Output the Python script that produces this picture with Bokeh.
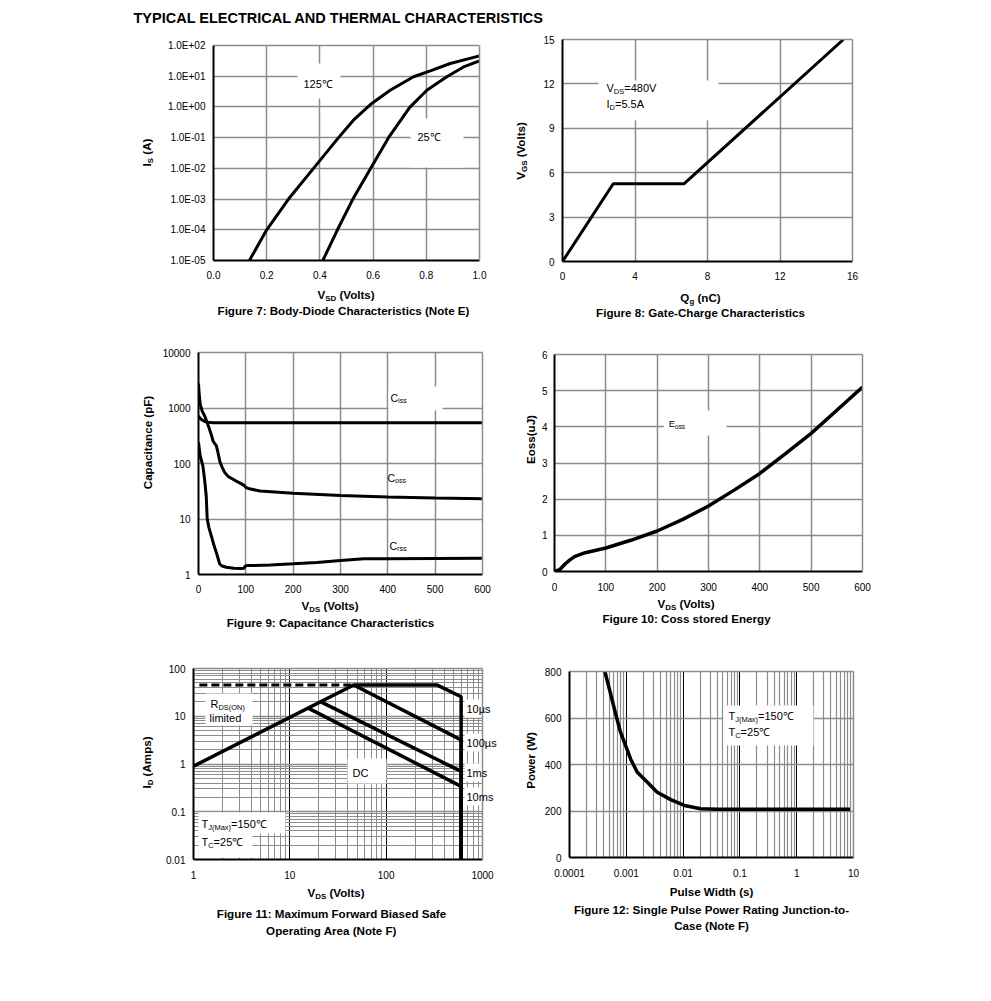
import math
from bokeh.plotting import figure
from bokeh.layouts import column, row
from bokeh.models import Label, BoxAnnotation, FixedTicker, Range1d, LinearAxis, LogAxis
from bokeh.embed import file_html
from bokeh.resources import INLINE

FONT = "Liberation Sans"
GRID = "#8c8c8c"

# ---------------- data ----------------
# Figure 7: body diode
vsd_125 = [0.135, 0.2, 0.282, 0.376, 0.47, 0.526, 0.595, 0.664, 0.752, 0.815, 0.89, 1.0]
is_125 = [1e-5, 1e-4, 1e-3, 1e-2, 1e-1, 0.37, 1.3, 3.5, 9.6, 15, 26, 46]
vsd_25 = [0.411, 0.466, 0.524, 0.591, 0.658, 0.737, 0.802, 0.877, 0.94, 1.0]
is_25 = [1e-5, 1e-4, 1e-3, 1e-2, 1e-1, 0.95, 3.5, 9.6, 20, 31.6]
f7_xticks = [0.0, 0.2, 0.4, 0.6, 0.8, 1.0]
f7_xlabels = ["0.0", "0.2", "0.4", "0.6", "0.8", "1.0"]
f7_yticks = [1e-5, 1e-4, 1e-3, 1e-2, 1e-1, 1.0, 10.0, 100.0]
f7_ylabels = ["1.0E-05", "1.0E-04", "1.0E-03", "1.0E-02", "1.0E-01", "1.0E+00", "1.0E+01", "1.0E+02"]

# Figure 8: gate charge
qg = [0, 2.8, 6.7, 15.5]
vgs = [0, 5.25, 5.25, 15]
f8_xticks = [0, 4, 8, 12, 16]
f8_yticks = [0, 3, 6, 9, 12, 15]

# Figure 9: capacitance
ciss_v = [0, 3, 6, 10, 15, 20, 30, 50, 100, 300, 600]
ciss = [720, 660, 620, 590, 565, 552, 545, 542, 540, 540, 540]
coss_v = [0, 1, 3.5, 8, 12.8, 18, 22, 27, 30.5, 34, 37.6, 41, 44.7, 50, 55.3, 63, 73, 82, 90.8, 97, 100, 105,
          130, 200, 300, 400, 500, 600]
coss = [2750, 2000, 1175, 870, 725, 560, 447, 330, 257, 230, 209, 160, 112, 85, 69, 58, 52, 47, 43, 40, 37, 35.5,
        32, 29, 26.6, 25, 24, 23.2]
crss_v = [0, 3.5, 9.2, 12.8, 16.3, 18.4, 22, 27, 32, 37.6, 41, 44.7, 50, 58.9, 75, 90.8, 96, 99, 102, 108, 151,
          200, 250, 300, 350, 400, 500, 600]
crss = [240, 138, 91, 52, 26, 10, 7, 5, 3.5, 2.5, 2.0, 1.55, 1.42, 1.35, 1.3, 1.28, 1.3, 1.42, 1.45, 1.45, 1.48,
        1.56, 1.65, 1.79, 1.92, 1.92, 1.95, 1.97]
f9_xticks = [0, 100, 200, 300, 400, 500, 600]
f9_yticks = [1.0, 10.0, 100.0, 1000.0, 10000.0]
f9_ylabels = ["1", "10", "100", "1000", "10000"]

# Figure 10: Eoss
eoss_v = [0, 10, 20, 30, 40, 60, 100, 150, 200, 250, 300, 350, 400, 450, 500, 550, 600]
eoss = [0, 0.05, 0.2, 0.32, 0.42, 0.52, 0.65, 0.87, 1.12, 1.44, 1.81, 2.25, 2.71, 3.26, 3.82, 4.46, 5.1]
f10_xticks = [0, 100, 200, 300, 400, 500, 600]
f10_yticks = [0, 1, 2, 3, 4, 5, 6]

# Figure 11: SOA
rds_v = [1.15, 46]
rds_i = [45, 45]
soa_10us_v = [1, 46, 340, 600, 600]
soa_10us_i = [0.9, 45, 45, 25.6, 0.01]
soa_100us_v = [46, 600, 600]
soa_100us_i = [45, 3.2, 0.01]
soa_1ms_v = [21, 600, 600]
soa_1ms_i = [20, 0.7, 0.01]
soa_dc_v = [15.5, 600, 600]
soa_dc_i = [14.8, 0.34, 0.01]
soa_names = ["10µs", "100µs", "1ms", "10ms"]
f11_xticks = [1.0, 10.0, 100.0, 1000.0]
f11_xlabels = ["1", "10", "100", "1000"]
f11_yticks = [0.01, 0.1, 1.0, 10.0, 100.0]
f11_ylabels = ["0.01", "0.1", "1", "10", "100"]

# Figure 12: single pulse power
pw = [4.2e-4, 5.3e-4, 6.5e-4, 7.9e-4, 1e-3, 1.19e-3, 1.56e-3, 2.35e-3, 3.5e-3, 6.05e-3, 0.0105, 0.0205, 0.04,
      0.1, 1, 8.7]
pwr = [800, 703, 617, 539, 474, 424, 367, 324, 281, 249, 224, 210, 208, 208, 208, 208]
f12_xticks = [1e-4, 1e-3, 1e-2, 1e-1, 1.0, 10.0]
f12_xlabels = ["0.0001", "0.001", "0.01", "0.1", "1", "10"]
f12_yticks = [0, 200, 400, 600, 800]

# ---------------- helpers ----------------
REG = {' ': 278, '!': 278, '(': 333, ')': 333, '+': 584, ',': 278, '-': 333, '.': 278, '/': 278, ':': 278,
       '=': 584, 'µ': 576, '℃': 1000}
BOLD = {' ': 278, '(': 333, ')': 333, '+': 584, '-': 333, '.': 278, ':': 333, '=': 584, '℃': 1000}
for d in "0123456789":
    REG[d] = 556
    BOLD[d] = 556
REG.update(dict(zip("ABCDEFGHIJKLMNOPQRSTUVWXYZ",
                    [667, 667, 722, 722, 667, 611, 778, 722, 278, 500, 667, 556, 833, 722, 778, 667, 778, 722, 667,
                     611, 722, 667, 944, 667, 667, 611])))
REG.update(dict(zip("abcdefghijklmnopqrstuvwxyz",
                    [556, 556, 500, 556, 556, 278, 556, 556, 222, 222, 500, 222, 833, 556, 556, 556, 556, 333, 500,
                     278, 556, 500, 722, 500, 500, 500])))
BOLD.update(dict(zip("ABCDEFGHIJKLMNOPQRSTUVWXYZ",
                     [722, 722, 722, 722, 667, 611, 778, 722, 278, 556, 722, 611, 833, 722, 778, 667, 778, 722, 667,
                      611, 722, 667, 944, 667, 667, 611])))
BOLD.update(dict(zip("abcdefghijklmnopqrstuvwxyz",
                     [556, 611, 556, 611, 556, 333, 611, 611, 278, 278, 556, 278, 889, 611, 611, 611, 611, 389, 556,
                      333, 611, 556, 778, 556, 556, 500])))


def tw(text, size, bold):
    tab = BOLD if bold else REG
    return sum(tab.get(c, 556) for c in text) * size / 1000.0


class Geo:
    def __init__(self, frame, xr, yr, xlog, ylog):
        self.fl, self.ft, self.fr, self.fb = frame
        self.xr, self.yr, self.xlog, self.ylog = xr, yr, xlog, ylog

    @staticmethod
    def _map(t, r, log):
        a, b = r
        if log:
            la, lb = math.log10(a), math.log10(b)
            return 10 ** (la + t * (lb - la))
        return a + t * (b - a)

    def x(self, px):
        return self._map((px - self.fl) / (self.fr - self.fl), self.xr, self.xlog)

    def y(self, py):
        return self._map((self.fb - py) / (self.fb - self.ft), self.yr, self.ylog)


class IdGeo:
    def x(self, px):
        return px

    def y(self, py):
        return py


def text_fig(x0, y0, w, h):
    p = figure(width=w, height=h, x_range=Range1d(x0, x0 + w), y_range=Range1d(y0 + h, y0),
               x_axis_location=None, y_axis_location=None, output_backend="svg", toolbar_location=None,
               min_border=0, outline_line_color=None, frame_align=False)
    p.xgrid.visible = False
    p.ygrid.visible = False
    p.background_fill_color = "white"
    p.border_fill_color = "white"
    return p


def make_fig(ox, oy, w, h, frame, xr, yr, xlog=False, ylog=False):
    fl, ft, fr, fb = frame
    p = figure(width=w, height=h, x_range=Range1d(*xr), y_range=Range1d(*yr),
               x_axis_type="log" if xlog else "linear", y_axis_type="log" if ylog else "linear",
               output_backend="svg", toolbar_location=None, frame_align=False,
               min_border_left=fl - ox, min_border_right=ox + w - fr,
               min_border_top=ft - oy, min_border_bottom=oy + h - fb)
    p.outline_line_color = None
    p.background_fill_color = "white"
    p.border_fill_color = "white"
    return p, Geo(frame, xr, yr, xlog, ylog)


def setup_axes(p, xt, xl, yt, yl, xminor=(), yminor=(), xlog=False, ylog=False, xstand=10, ystand=8):
    xtk = FixedTicker(ticks=list(xt), minor_ticks=list(xminor))
    ytk = FixedTicker(ticks=list(yt), minor_ticks=list(yminor))
    xa, ya = p.below[0], p.left[0]
    xa.ticker = xtk
    ya.ticker = ytk
    xa.major_label_overrides = dict(zip(xt, xl))
    ya.major_label_overrides = dict(zip(yt, yl))
    xa.major_label_standoff = xstand
    ya.major_label_standoff = ystand
    for ax in (xa, ya):
        ax.axis_line_color = "black"
        ax.axis_line_width = 2
        ax.major_tick_line_color = None
        ax.minor_tick_line_color = None
        ax.major_tick_out = 0
        ax.major_tick_in = 0
        ax.minor_tick_out = 0
        ax.minor_tick_in = 0
        ax.major_label_text_font = FONT
        ax.major_label_text_font_size = "10px"
        ax.major_label_text_color = "black"
    p.xgrid[0].ticker = xtk
    p.ygrid[0].ticker = ytk
    for gr in (p.xgrid[0], p.ygrid[0]):
        gr.grid_line_color = GRID
        gr.grid_line_width = 1.5
    Ax = LogAxis if xlog else LinearAxis
    Ay = LogAxis if ylog else LinearAxis
    edges = []
    for A, loc in ((Ax, "above"), (Ay, "right")):
        a = A(ticker=FixedTicker(ticks=[]), axis_line_color=GRID, axis_line_width=1.5,
              major_tick_line_color=None, minor_tick_line_color=None,
              major_tick_out=0, minor_tick_out=0, major_tick_in=0, minor_tick_in=0,
              major_label_text_font=FONT, major_label_text_font_size="11px",
              major_label_text_color="black")
        p.add_layout(a, loc)
        edges.append(a)
    return edges


def text(p, g, s, px, py, size=11.0, bold=False, align="left", rotated=False):
    p.add_layout(Label(x=g.x(px), y=g.y(py), text=s, text_font=FONT, text_font_size=f"{size}px",
                       text_font_style="bold" if bold else "normal", text_align=align,
                       text_baseline="middle", angle=math.pi / 2 if rotated else 0,
                       text_color="black"))


def rich(p, g, segs, px, py, size=11.0, bold=False, anchor="center", rotated=False):
    """Text made of pieces; pieces flagged 1 are subscripts (smaller, lowered)."""
    sub = size * 0.68
    shift = size * 0.24
    ws = [tw(t, sub if s else size, bold) for t, s in segs]
    total = sum(ws)
    pos = px - total / 2 if (anchor == "center" and not rotated) else px
    if rotated:
        pos = py + total / 2
    for (t, s), w in zip(segs, ws):
        fs = sub if s else size
        lead = len(t) - len(t.lstrip(" "))
        body = t.lstrip(" ")
        lw = lead * tw(" ", fs, bold)
        off = (0.3465 * (size - sub) + shift) if s else 0.0
        common = dict(text=body, text_font=FONT, text_font_size=f"{fs:.2f}px",
                      text_font_style="bold" if bold else "normal", text_align="left",
                      text_baseline="middle", text_color="black")
        if not rotated:
            p.add_layout(Label(x=g.x(pos + lw), y=g.y(py + off), **common))
            pos += w
        else:
            p.add_layout(Label(x=g.x(px + off), y=g.y(pos - lw), angle=math.pi / 2, **common))
            pos -= w


def wbox(p, g, l, t, r, b):
    p.add_layout(BoxAnnotation(left=g.x(l), right=g.x(r), top=g.y(t), bottom=g.y(b),
                               fill_color="white", fill_alpha=1.0, line_color=None, level="underlay"))


def minor_decades(lo, hi):
    out = []
    d = lo
    while d < hi * 0.999:
        out += [k * d for k in range(2, 10)]
        d *= 10
    return out


def cell(x0, y0, x1, y1, wy, ysplit, frame, xr, yr, xlog=False, ylog=False):
    ylab = text_fig(x0, y0, wy, y1 - y0)
    p, g = make_fig(x0 + wy, y0, x1 - x0 - wy, ysplit - y0, frame, xr, yr, xlog, ylog)
    below = text_fig(x0 + wy, ysplit, x1 - x0 - wy, y1 - ysplit)
    return row(ylab, column(p, below)), p, g, ylab, below


AX = 11.6   # axis label size
CAP = 11.6  # caption size
ANN = 11.0  # annotation size
ID = IdGeo()

# ---------------- title ----------------
pt = text_fig(0, 0, 983, 30)
text(pt, ID, "TYPICAL ELECTRICAL AND THERMAL CHARACTERISTICS", 133, 17, size=14.5, bold=True)

# ---------------- Figure 7 ----------------
c7, p7, g7, y7, b7 = cell(0, 30, 505, 335, 158, 287, (213, 45, 479, 260), (0, 1), (1e-5, 100), ylog=True)
setup_axes(p7, f7_xticks, f7_xlabels, f7_yticks, f7_ylabels, ylog=True)
wbox(p7, g7, 297, 63, 340, 98)
wbox(p7, g7, 410, 118, 463, 167)
p7.line(vsd_125, is_125, line_color="black", line_width=3)
p7.line(vsd_25, is_25, line_color="black", line_width=3)
text(p7, g7, "125℃", 303, 83, size=ANN)
text(p7, g7, "25℃", 417, 136, size=ANN)
rich(y7, ID, [("I", 0), ("S", 1), (" (A)", 0)], 146, 152, size=AX, bold=True, rotated=True)
rich(b7, ID, [("V", 0), ("SD", 1), (" (Volts)", 0)], 346, 294, size=AX, bold=True)
text(b7, ID, "Figure 7: Body-Diode Characteristics (Note E)", 343, 310, size=CAP, bold=True, align="center")

# ---------------- Figure 8 ----------------
c8, p8, g8, y8, b8 = cell(505, 30, 975, 335, 30, 287, (562, 39, 852, 261), (0, 16), (0, 15))
setup_axes(p8, f8_xticks, [str(v) for v in f8_xticks], f8_yticks, [str(v) for v in f8_yticks])
wbox(p8, g8, 598, 80, 718, 120)
p8.line(qg, vgs, line_color="black", line_width=3)
rich(p8, g8, [("V", 0), ("DS", 1), ("=480V", 0)], 606, 87, size=ANN, anchor="left")
rich(p8, g8, [("I", 0), ("D", 1), ("=5.5A", 0)], 606, 103, size=ANN, anchor="left")
rich(y8, ID, [("V", 0), ("GS", 1), (" (Volts)", 0)], 520, 150, size=AX, bold=True, rotated=True)
rich(b8, ID, [("Q", 0), ("g", 1), (" (nC)", 0)], 700, 297, size=AX, bold=True)
text(b8, ID, "Figure 8: Gate-Charge Characteristics", 700, 312, size=CAP, bold=True, align="center")

# ---------------- Figure 9 ----------------
c9, p9, g9, y9, b9 = cell(0, 335, 505, 640, 158, 598, (198, 352, 482, 574), (0, 600), (1, 10000), ylog=True)
setup_axes(p9, f9_xticks, [str(v) for v in f9_xticks], f9_yticks, f9_ylabels, ylog=True)
wbox(p9, g9, 388, 386, 442, 410)
p9.line(ciss_v, ciss, line_color="black", line_width=3)
p9.line(coss_v, coss, line_color="black", line_width=3)
p9.line(crss_v, crss, line_color="black", line_width=3)
rich(p9, g9, [("C", 0), ("iss", 1)], 390, 397, size=10.5, anchor="left")
rich(p9, g9, [("C", 0), ("oss", 1)], 387, 477, size=10.5, anchor="left")
rich(p9, g9, [("C", 0), ("rss", 1)], 389, 545, size=10.5, anchor="left")
text(y9, ID, "Capacitance (pF)", 147, 442, size=AX, bold=True, align="center", rotated=True)
rich(b9, ID, [("V", 0), ("DS", 1), (" (Volts)", 0)], 330, 605, size=AX, bold=True)
text(b9, ID, "Figure 9: Capacitance Characteristics", 330, 622, size=CAP, bold=True, align="center")

# ---------------- Figure 10 ----------------
c10, p10, g10, y10, b10 = cell(505, 335, 975, 640, 33, 595, (552, 354, 862, 571), (0, 600), (0, 6))
setup_axes(p10, f10_xticks, [str(v) for v in f10_xticks], f10_yticks, [str(v) for v in f10_yticks],
           xstand=11, ystand=7)
wbox(p10, g10, 662, 410, 725, 435)
p10.line(eoss_v, eoss, line_color="black", line_width=3.5)
rich(p10, g10, [("E", 0), ("oss", 1)], 667, 423, size=9.5, anchor="left")
text(y10, ID, "Eoss(uJ)", 530, 439, size=AX, bold=True, align="center", rotated=True)
rich(b10, ID, [("V", 0), ("DS", 1), (" (Volts)", 0)], 686, 603, size=AX, bold=True)
text(b10, ID, "Figure 10: Coss stored Energy", 686, 618, size=CAP, bold=True, align="center")

# ---------------- Figure 11 ----------------
c11, p11, g11, y11, b11 = cell(0, 640, 505, 960, 158, 885, (193, 668, 482, 859), (1, 1000), (0.01, 100),
                               xlog=True, ylog=True)
edges11 = setup_axes(p11, f11_xticks, f11_xlabels, f11_yticks, f11_ylabels,
                     xminor=minor_decades(1, 1000), yminor=minor_decades(0.01, 100), xlog=True, ylog=True,
                     xstand=11)
p11.xgrid[0].grid_line_color = "black"
p11.xgrid[0].grid_line_width = 1
p11.xgrid[0].minor_grid_line_color = GRID
p11.xgrid[0].minor_grid_line_width = 1
p11.ygrid[0].minor_grid_line_color = GRID
p11.ygrid[0].minor_grid_line_width = 1
wbox(p11, g11, 205, 693, 252, 725)
wbox(p11, g11, 198, 812, 285, 833)
wbox(p11, g11, 198, 833, 252, 857)
wbox(p11, g11, 347, 758, 386, 783)
name_y = [708, 742, 772, 796]
for yy in name_y:
    wbox(p11, g11, 464, yy - 9, 482, yy + 9)
# curve names sit on the right frame edge, starting just inside the frame
right11 = edges11[1]
name_ticks = [g11.y(yy) for yy in name_y]
right11.ticker = FixedTicker(ticks=name_ticks)
right11.major_label_overrides = dict(zip(name_ticks, soa_names))
right11.major_label_standoff = -16
p11.line(rds_v, rds_i, line_color="black", line_width=3, line_dash="8 4")
p11.line(soa_10us_v, soa_10us_i, line_color="black", line_width=3.5)
p11.line(soa_100us_v, soa_100us_i, line_color="black", line_width=3.5)
p11.line(soa_1ms_v, soa_1ms_i, line_color="black", line_width=3.5)
p11.line(soa_dc_v, soa_dc_i, line_color="black", line_width=3.5)
rich(p11, g11, [("R", 0), ("DS(ON)", 1)], 210, 703, size=ANN, anchor="left")
text(p11, g11, "limited", 209, 717, size=ANN)
text(p11, g11, "DC", 352, 772, size=ANN)
rich(p11, g11, [("T", 0), ("J(Max)", 1), ("=150℃", 0)], 201, 823, size=ANN, anchor="left")
rich(p11, g11, [("T", 0), ("C", 1), ("=25℃", 0)], 201, 841, size=ANN, anchor="left")
rich(y11, ID, [("I", 0), ("D", 1), (" (Amps)", 0)], 146, 762, size=AX, bold=True, rotated=True)
rich(b11, ID, [("V", 0), ("DS", 1), (" (Volts)", 0)], 336, 892, size=AX, bold=True)
text(b11, ID, "Figure 11: Maximum Forward Biased Safe", 331, 913, size=CAP, bold=True, align="center")
text(b11, ID, "Operating Area (Note F)", 331, 930, size=CAP, bold=True, align="center")

# ---------------- Figure 12 ----------------
c12, p12, g12, y12, b12 = cell(505, 640, 975, 960, 33, 884, (569, 671, 853, 857), (1e-4, 10), (0, 800),
                               xlog=True)
setup_axes(p12, f12_xticks, f12_xlabels, f12_yticks, [str(v) for v in f12_yticks],
           xminor=minor_decades(1e-4, 10), xlog=True, xstand=11)
p12.xgrid[0].grid_line_color = "black"
p12.xgrid[0].grid_line_width = 1
p12.xgrid[0].minor_grid_line_color = GRID
p12.xgrid[0].minor_grid_line_width = 1.2
wbox(p12, g12, 723, 705, 813, 745)
p12.line(pw, pwr, line_color="black", line_width=3.5)
rich(p12, g12, [("T", 0), ("J(Max)", 1), ("=150℃", 0)], 728, 715, size=ANN, anchor="left")
rich(p12, g12, [("T", 0), ("C", 1), ("=25℃", 0)], 728, 731, size=ANN, anchor="left")
text(y12, ID, "Power (W)", 530, 760, size=AX, bold=True, align="center", rotated=True)
text(b12, ID, "Pulse Width (s)", 711, 891, size=AX, bold=True, align="center")
text(b12, ID, "Figure 12: Single Pulse Power Rating Junction-to-", 711, 909, size=CAP, bold=True, align="center")
text(b12, ID, "Case (Note F)", 711, 925, size=CAP, bold=True, align="center")

layout = column(pt, row(c7, c8), row(c9, c10), row(c11, c12))
open("out.html", "w").write(file_html(layout, INLINE))
